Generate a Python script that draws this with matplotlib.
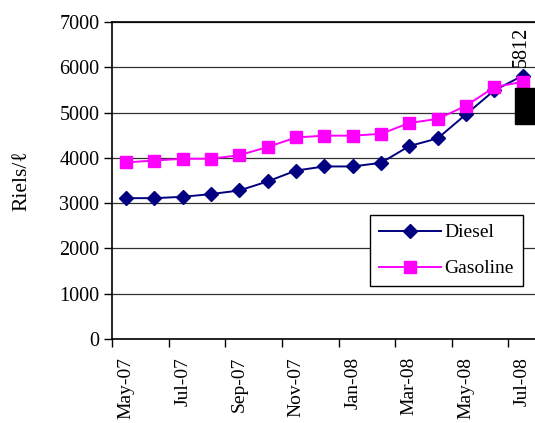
import matplotlib
matplotlib.use("Agg")
import matplotlib.pyplot as plt
import numpy as np

months = ["May-07", "Jun-07", "Jul-07", "Aug-07", "Sep-07", "Oct-07", "Nov-07", "Dec-07",
          "Jan-08", "Feb-08", "Mar-08", "Apr-08", "May-08", "Jun-08", "Jul-08"]
diesel = [3110, 3110, 3140, 3200, 3280, 3480, 3720, 3810, 3810, 3890, 4260, 4430, 4960, 5490, 5812]
gasoline = [3900, 3940, 3980, 3980, 4060, 4240, 4450, 4490, 4490, 4530, 4770, 4860, 5150, 5560, 5680]
yticks = [0, 1000, 2000, 3000, 4000, 5000, 6000, 7000]

plt.rcParams['font.family'] = ['Liberation Serif', 'DejaVu Serif']

fig = plt.figure(figsize=(5.35, 4.23), dpi=100)
ax = fig.add_axes([0.2093, 0.1986, 0.794, 0.7494])

x = np.arange(len(months))
ax.plot(x, diesel, color='#000080', marker='D', markersize=7.5, lw=1.4, label='Diesel', zorder=3)
ax.plot(x, gasoline, color='#FF00FF', marker='s', markersize=8, lw=1.4, label='Gasoline', zorder=3)

ax.set_ylim(0, 7000)
ax.set_xlim(-0.5, len(months) - 0.5)
ax.set_yticks(yticks)
ax.set_yticklabels([str(v) for v in yticks], fontsize=14.5)
ax.yaxis.grid(True, color='#303030', lw=0.9)
ax.set_axisbelow(True)

ax.set_xticks(x[::2])
ax.set_xticklabels(months[::2], rotation=90, fontsize=14)
ax.set_xticks(np.arange(-0.5, len(months), 2), minor=True)
ax.tick_params(axis='x', which='major', length=0, pad=13)
ax.tick_params(axis='x', which='minor', length=6, direction='out', width=1)
ax.tick_params(axis='y', length=6, direction='out', width=1, pad=3)

for s in ['left', 'bottom', 'top']:
    ax.spines[s].set_linewidth(1.2)
ax.spines['right'].set_visible(False)

ax.set_ylabel('Riels/ℓ', fontsize=15.5, labelpad=20)

ax.annotate(str(diesel[-1]), (x[-1], diesel[-1]), xytext=(-1, 6), textcoords='offset points',
            rotation=90, ha='center', va='bottom', fontsize=14.5)
ax.annotate(str(gasoline[-1]), (x[-1], gasoline[-1]), xytext=(2, -7), textcoords='offset points',
            rotation=90, ha='center', va='top', fontsize=10.5, color='black',
            bbox=dict(boxstyle='square,pad=0.25', fc='black', ec='black'))

leg = ax.legend(loc='upper left', bbox_to_anchor=(0.607, 0.391), fontsize=14,
                frameon=True, fancybox=False, edgecolor='black', framealpha=1,
                handlelength=3.2, borderpad=0.45, labelspacing=0.95, handletextpad=0.2,
                borderaxespad=0)
leg.get_frame().set_linewidth(1.0)

fig.savefig('out.png', dpi=100)
